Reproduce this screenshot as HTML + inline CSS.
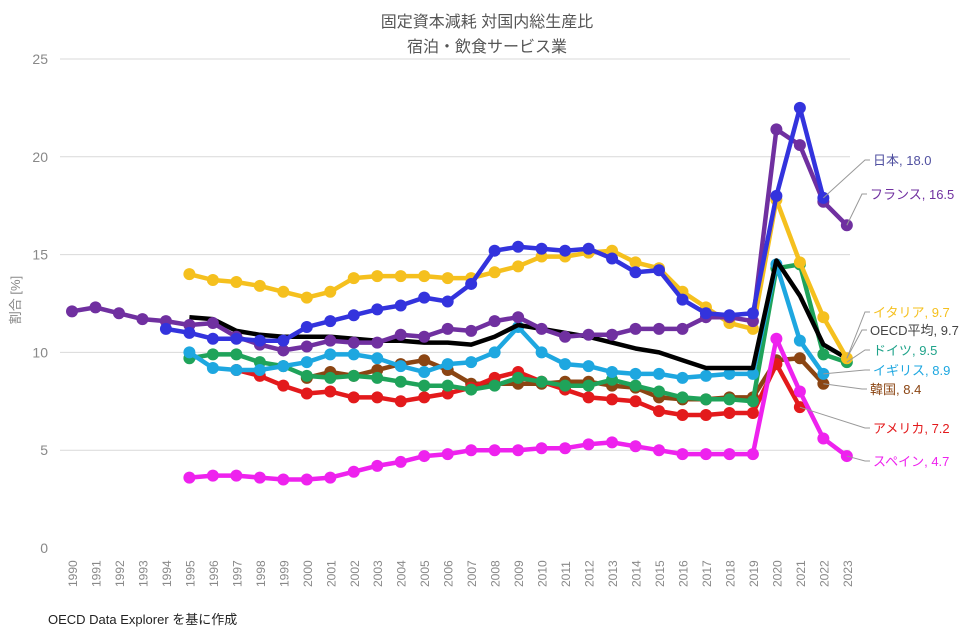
<!DOCTYPE html>
<html><head><meta charset="utf-8"><style>
body{margin:0;background:#fff;}
svg text{font-family:"Liberation Sans","Noto Sans CJK JP",sans-serif;}
</style></head><body>
<svg id="c" width="975" height="636" xmlns="http://www.w3.org/2000/svg"></svg>
<script>
const s=document.getElementById('c');
const X=y=>72+(y-1990)*23.48, Y=v=>548-v*19.56;
let h='';
h+='<text x="487" y="27" text-anchor="middle" font-size="16" fill="#555">固定資本減耗 対国内総生産比</text>';
h+='<text x="487" y="52" text-anchor="middle" font-size="16" fill="#555">宿泊・飲食サービス業</text>';
for(let v=0;v<=25;v+=5){const y=Y(v);
 if(v>0)h+=`<line x1="60" x2="850" y1="${y}" y2="${y}" stroke="#d9d9d9" stroke-width="1"/>`;
 h+=`<text x="48" y="${y+5}" text-anchor="end" font-size="14" fill="#888">${v}</text>`;}
for(let yr=1990;yr<=2023;yr++){const x=X(yr);
 h+=`<text transform="translate(${x+5},587) rotate(-90)" font-size="12" fill="#888">${yr}</text>`;}
h+='<text transform="translate(20,300) rotate(-90)" text-anchor="middle" font-size="13" fill="#888">割合 [%]</text>';
h+='<text x="48" y="624" font-size="13" fill="#222">OECD Data Explorer を基に作成</text>';
const S=[
['#8b4513',2000,[8.7,9.0,8.8,9.1,9.4,9.6,9.1,8.4,8.4,8.4,8.4,8.5,8.5,8.3,8.2,7.7,7.6,7.6,7.7,7.7,9.6,9.7,8.4],1],
['#e31a1c',1997,[9.1,8.8,8.3,7.9,8.0,7.7,7.7,7.5,7.7,7.9,8.2,8.7,9.0,8.5,8.1,7.7,7.6,7.5,7.0,6.8,6.8,6.9,6.9,9.4,7.2],1],
['#1fa35a',1995,[9.7,9.9,9.9,9.5,9.3,8.8,8.7,8.8,8.7,8.5,8.3,8.3,8.1,8.3,8.7,8.5,8.3,8.3,8.6,8.3,8.0,7.7,7.6,7.6,7.5,14.3,14.5,9.9,9.5],1],
['#1ea7e0',1995,[10.0,9.2,9.1,9.1,9.3,9.5,9.9,9.9,9.7,9.3,9.0,9.4,9.5,10.0,11.3,10.0,9.4,9.3,9.0,8.9,8.9,8.7,8.8,8.9,8.9,14.5,10.6,8.9],1],
['#000',1995,[11.8,11.7,11.1,10.9,10.8,10.8,10.8,10.7,10.6,10.6,10.5,10.5,10.4,10.8,11.4,11.2,11.0,10.8,10.5,10.2,10.0,9.6,9.2,9.2,9.2,14.7,12.9,10.4,9.7],0],
['#ee22ee',1995,[3.6,3.7,3.7,3.6,3.5,3.5,3.6,3.9,4.2,4.4,4.7,4.8,5.0,5.0,5.0,5.1,5.1,5.3,5.4,5.2,5.0,4.8,4.8,4.8,4.8,10.7,8.0,5.6,4.7],1],
['#f5c01e',1995,[14.0,13.7,13.6,13.4,13.1,12.8,13.1,13.8,13.9,13.9,13.9,13.8,13.8,14.1,14.4,14.9,14.9,15.1,15.2,14.6,14.3,13.1,12.3,11.5,11.2,17.8,14.6,11.8,9.7],1],
['#7030a0',1990,[12.1,12.3,12.0,11.7,11.6,11.4,11.5,10.8,10.4,10.1,10.3,10.6,10.5,10.5,10.9,10.8,11.2,11.1,11.6,11.8,11.2,10.8,10.9,10.9,11.2,11.2,11.2,11.8,11.8,11.6,21.4,20.6,17.7,16.5],1],
['#3333dd',1994,[11.2,11.0,10.7,10.7,10.6,10.6,11.3,11.6,11.9,12.2,12.4,12.8,12.6,13.5,15.2,15.4,15.3,15.2,15.3,14.8,14.1,14.2,12.7,12.0,11.9,12.0,18.0,22.5,17.9],1]];
for(const [c,st,d,m] of S){const p=d.map((v,i)=>X(st+i).toFixed(1)+','+Y(v).toFixed(1));
 h+=`<polyline points="${p.join(' ')}" fill="none" stroke="${c}" stroke-width="4.5" stroke-linejoin="round"/>`;
 if(m)d.forEach((v,i)=>h+=`<circle cx="${X(st+i)}" cy="${Y(v)}" r="6" fill="${c}"/>`);}
const L=[['日本, 18.0','#5050a0',873,165,X(2022),Y(17.9)],['フランス, 16.5','#7030a0',870,199,X(2023),Y(16.5)],
['イタリア, 9.7','#f5c01e',873,317,X(2023),Y(9.7)],['OECD平均, 9.7','#444',870,335,X(2023),Y(9.7)],
['ドイツ, 9.5','#1fa38a',873,355,X(2023),Y(9.5)],['イギリス, 8.9','#1ea7e0',873,375,X(2022),Y(8.9)],
['韓国, 8.4','#8b4513',870,394,X(2022),Y(8.4)],['アメリカ, 7.2','#e31a1c',873,433,X(2021),Y(7.2)],
['スペイン, 4.7','#ee22ee',873,466,X(2023),Y(4.7)]];
for(const [t,c,x,y,px,py] of L){
 h+=`<polyline points="${px},${py} ${x-8},${y-5} ${x-3},${y-5}" fill="none" stroke="#999" stroke-width="1"/>`;
 h+=`<text x="${x}" y="${y}" font-size="13" fill="${c}">${t}</text>`;}
s.innerHTML=h;
</script>
</body></html>
